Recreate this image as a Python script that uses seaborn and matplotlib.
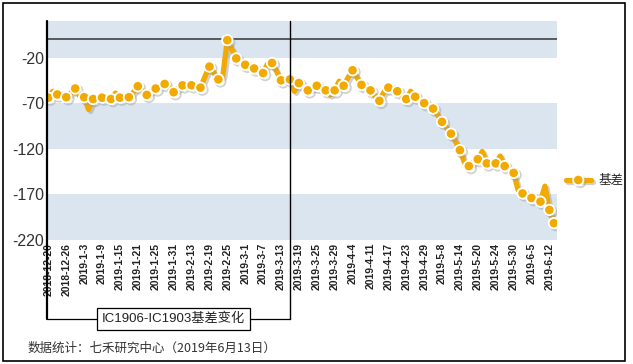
import numpy as np
import pandas as pd
import seaborn as sns
import matplotlib.pyplot as plt
from matplotlib import patheffects as pe
from matplotlib.lines import Line2D
from matplotlib.patches import Rectangle

# trading days (China exchange holidays removed)
holidays = ["2018-12-31", "2019-01-01", "2019-02-04", "2019-02-05", "2019-02-06",
            "2019-02-07", "2019-02-08", "2019-04-05", "2019-05-01", "2019-05-02",
            "2019-05-03", "2019-06-07"]
dates = pd.bdate_range("2018-12-20", "2019-06-13", freq="C", holidays=holidays)

# IC1906 - IC1903 basis
basis = [-64, -57, -60.5, -62, -63.5, -59, -54, -62, -63.5, -77,
         -65.5, -65, -64, -64, -65.5, -59, -64, -63, -63.5, -58,
         -51.5, -56, -61, -57, -54, -51, -49, -53, -58, -54,
         -50.5, -51, -50.5, -52, -53, -41, -30, -37, -44, -40,
         -1, -11, -21, -25, -28, -30, -32, -34, -37, -27,
         -26, -35, -45, -44, -44, -57, -48, -52, -56, -54,
         -51, -53, -56, -61, -56, -46, -51, -42, -34, -42,
         -50, -53, -56, -62, -67.5, -58, -53, -55, -57, -62,
         -65.5, -57, -63, -66, -70, -73, -76, -83, -90.5, -97,
         -103.5, -112, -121.5, -135, -139, -135, -131.5, -123, -136, -136,
         -136, -128, -139, -143, -146.5, -165, -169, -172, -174, -176,
         -178, -161, -187, -201.5]

yticks = [-220, -170, -120, -70, -20]
bands = [(-220, -170), (-120, -70), (-20, 20)]
expiry = "2019-03-15"   # IC1903 expiry

df = pd.DataFrame({"idx": np.arange(len(dates)), "basis": basis})
labels = [f"{d.year}-{d.month}-{d.day}" for d in dates]

orange = "#F2AA00"
band_col = "#DAE5F0"
cjk = ["Noto Sans CJK SC", "DejaVu Sans"]

sns.set_style("white")
plt.rcParams["font.family"] = ["Liberation Sans", "Noto Sans CJK SC", "DejaVu Sans"]

fig = plt.figure(figsize=(6.33, 3.64), dpi=100)
ax = fig.add_axes([47 / 633, 1 - 240 / 364, 510 / 633, 219 / 364])

for lo, hi in bands:
    ax.axhspan(lo, hi, color=band_col, lw=0, zorder=0)
ax.axhline(0, color="#333333", lw=1.1, zorder=2)

shadow = [pe.SimpleLineShadow(offset=(1.5, -1.5), shadow_color="#9a9a9a", alpha=0.45), pe.Normal()]
mk = list(range(0, len(df), 2)) + [len(df) - 1]
sns.lineplot(data=df, x="idx", y="basis", ax=ax, color=orange, lw=3.8,
             marker="o", markersize=7.5, markeredgecolor="white", markeredgewidth=1.3,
             markevery=mk, path_effects=shadow, zorder=3, legend=False)

ax.set_xlim(-0.3, len(df) - 0.3)
ax.set_ylim(-220, 20)
ax.set_xticks(df["idx"][::4])
ax.set_xticklabels(labels[::4], rotation=90, fontsize=7.5, fontweight="bold", color="#222222")
ax.set_yticks(yticks)
ax.set_yticklabels([str(v) for v in yticks], fontsize=11.5, color="#333333")
ax.tick_params(length=0, pad=2)
ax.set_xlabel("")
ax.set_ylabel("")
for s in ax.spines.values():
    s.set_visible(False)

# axis line + bracket round the IC1903 period
xpos = list(dates).index(pd.Timestamp(expiry))
tr = ax.get_xaxis_transform()
ax.plot([-0.3, -0.3], [1, -0.36], color="black", lw=1.6, transform=tr, clip_on=False, zorder=4)
ax.plot([-0.3, xpos], [-0.36, -0.36], color="black", lw=0.9, transform=tr, clip_on=False, zorder=4)
ax.plot([xpos, xpos], [1, -0.36], color="black", lw=1.0, transform=tr, clip_on=False, zorder=4)
ax.text(28, -0.36, "IC1906-IC1903基差变化", transform=tr, ha="center", va="center",
        fontsize=9.5, family=["Liberation Sans", "Noto Sans CJK SC"], color="#222222", zorder=5,
        bbox=dict(boxstyle="square,pad=0.35", fc="white", ec="black", lw=0.9))

h = Line2D([], [], color=orange, lw=3.8, marker="o", markersize=7.5,
           markeredgecolor="white", markeredgewidth=1.3, path_effects=shadow)
ax.legend(handles=[h], labels=["基差"], loc="center left", bbox_to_anchor=(1.0, 0.27),
          frameon=False, handlelength=2.0, handletextpad=0.6, borderaxespad=0.3,
          prop={"family": cjk, "size": 9})

fig.text(28 / 633, 1 - 348 / 364, "数据统计：七禾研究中心（2019年6月13日）",
         fontsize=9, family=cjk, color="#333333", va="center", ha="left")
fig.add_artist(Rectangle((3 / 633, 3 / 364), 622 / 633, 358 / 364, transform=fig.transFigure,
                         fill=False, ec="black", lw=1.2))

fig.savefig("out.png", dpi=100)
